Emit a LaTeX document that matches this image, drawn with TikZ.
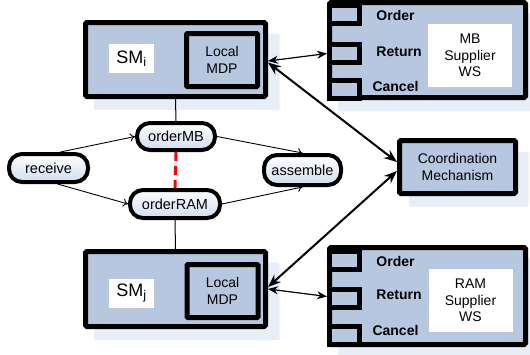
\documentclass[tikz,border=0pt]{standalone}
\usepackage{fontspec}
\setmainfont{Liberation Sans}
\usetikzlibrary{arrows.meta,shadows}
\definecolor{boxblue}{RGB}{182,199,223}
\definecolor{shadeblue}{RGB}{232,238,247}
\definecolor{pillblue}{RGB}{208,220,238}

\begin{document}
\begin{tikzpicture}[x=1pt,y=-1pt,
    every node/.style={inner sep=0pt},
    bigbox/.style={draw,line width=5pt,fill=boxblue,rounded corners=1.5pt,
      general shadow={shadow xshift=11pt,shadow yshift=-12pt,shadow scale=1.03,
        fill=shadeblue,draw=none}},
    mdpbox/.style={draw,line width=5pt,fill=boxblue,rounded corners=1pt,
      minimum width=71pt,minimum height=53pt,align=center,
      font=\fontsize{14}{17}\selectfont},
    smlabel/.style={fill=white,minimum width=45pt,minimum height=29pt,
      font=\fontsize{18}{20}\selectfont},
    wslabel/.style={fill=white,minimum width=84pt,minimum height=63pt,
      align=center,font=\fontsize{14}{16.5}\selectfont},
    port/.style={draw,line width=5pt,fill=boxblue,minimum width=30pt,minimum height=18pt},
    portname/.style={font=\bfseries\fontsize{14}{17}\selectfont},
    pill/.style={draw,line width=4pt,rounded corners=13pt,top color=white,
      bottom color=pillblue,minimum height=27pt,font=\fontsize{14.5}{17}\selectfont},
    flow/.style={-{To[length=5pt,width=8pt]},line width=0.9pt},
    link/.style={{Stealth[length=10pt,width=8pt]}-{Stealth[length=10pt,width=8pt]},line width=1.2pt},
    coordlink/.style={{Stealth[length=13pt,width=10pt]}-{Stealth[length=13pt,width=10pt]},line width=2pt}]
  \useasboundingbox (0,0) rectangle (530,354);

  % service managers
  \node[bigbox,minimum width=180pt,minimum height=74pt] (smi) at (175.5,59.5) {};
  \node[mdpbox] (mdpi) at (222,60) {Local\\MDP};
  \node[smlabel] (smilabel) at (131.5,58.5) {SM\textsubscript{i}};

  \node[bigbox,minimum width=180pt,minimum height=75pt] (smj) at (175.5,289) {};
  \node[mdpbox] (mdpj) at (222.5,291) {Local\\MDP};
  \node[smlabel] (smjlabel) at (131.5,293) {SM\textsubscript{j}};

  % supplier web services
  \node[bigbox,minimum width=196pt,minimum height=95pt] (mbws) at (427.5,50) {};
  \node[port] (mborder) at (344.5,14) {};
  \node[port] (mbreturn) at (344.5,53.5) {};
  \node[port] (mbcancel) at (344.5,89.5) {};
  \node[portname] (mborderlbl) at (395.5,15) {Order};
  \node[portname] (mbreturnlbl) at (399,52) {Return};
  \node[portname] (mbcancellbl) at (395.5,86) {Cancel};
  \node[wslabel] (mbname) at (470,55.5) {MB\\Supplier\\WS};

  \node[bigbox,minimum width=196pt,minimum height=97pt] (ramws) at (427.5,296) {};
  \node[port] (ramorder) at (344.5,260) {};
  \node[port] (ramreturn) at (344.5,298.5) {};
  \node[port] (ramcancel) at (344.5,335.5) {};
  \node[portname] (ramorderlbl) at (395.5,261) {Order};
  \node[portname] (ramreturnlbl) at (399,295) {Return};
  \node[portname] (ramcancellbl) at (395.5,330) {Cancel};
  \node[wslabel] (ramname) at (470.5,300.5) {RAM\\Supplier\\WS};

  \node[bigbox,minimum width=116pt,minimum height=53pt,align=center,
    font=\fontsize{14}{17}\selectfont] (coord) at (457.5,167) {Coordination\\Mechanism};

  % process
  \node[pill,minimum width=78pt] (ordermb) at (176,136.5) {orderMB};
  \node[pill,minimum width=79pt,minimum height=28pt] (receive) at (48.5,168) {receive};
  \node[pill,minimum width=90pt,minimum height=28pt] (orderram) at (175,204) {orderRAM};
  \node[pill,minimum width=77pt,minimum height=30pt] (assemble) at (302.5,170) {assemble};

  \draw[line width=1pt] (smi.south) -- (ordermb.north);
  \draw[line width=1pt] (orderram.south) -- (smj.north);
  \draw[red,line width=3pt,dash pattern=on 9pt off 5pt] (ordermb.south) -- (orderram.north);

  \draw[flow] ([xshift=12pt]receive.north) -- (ordermb.west);
  \draw[flow] ([xshift=9pt]receive.south) -- (orderram.west);
  \draw[flow] (ordermb.east) -- (assemble.north);
  \draw[flow] (orderram.east) -- (assemble.south);

  % links
  \draw[link] ([yshift=-1.5pt]smi.east) -- (mbreturn.west);
  \draw[link] (smj.east) -- ([yshift=2pt]ramreturn.west);
  \draw[coordlink] ([yshift=-3pt]smi.east) -- ([yshift=5pt]coord.west);
  \draw[coordlink] ([yshift=2pt]smj.east) -- ([yshift=-4pt]coord.west);
\end{tikzpicture}
\end{document}
